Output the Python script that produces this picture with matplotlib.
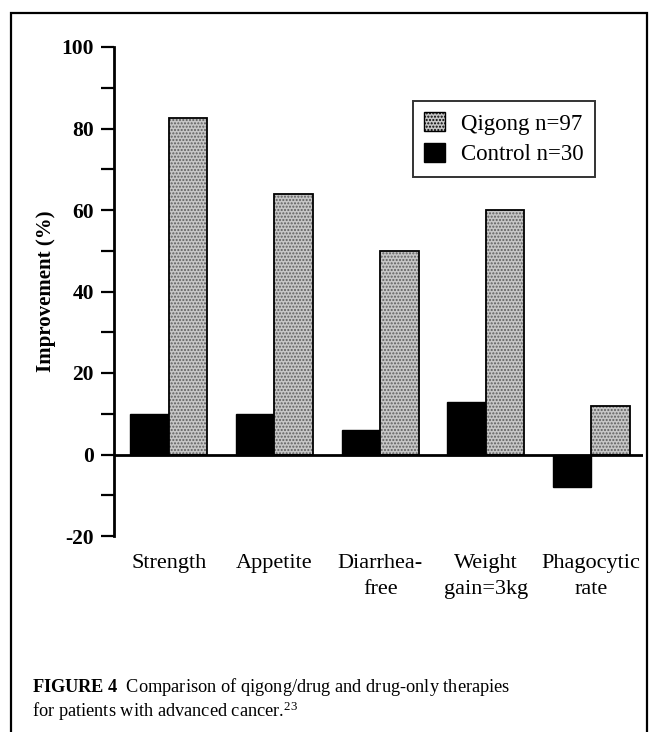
import matplotlib
matplotlib.use("Agg")
import matplotlib.pyplot as plt
from matplotlib.patches import Rectangle, Patch
from matplotlib.ticker import MultipleLocator

categories = ["Strength", "Appetite", "Diarrhea-\nfree", "Weight\ngain=3kg", "Phagocytic\nrate"]
qigong = [82.5, 64, 50, 60, 12]
control = [10, 10, 6, 13, -8]
series_labels = ["Qigong n=97", "Control n=30"]
yticks = [-20, 0, 20, 40, 60, 80, 100]
caption_line1 = r"$\mathbf{FIGURE\ 4}$  Comparison of qigong/drug and drug-only therapies"
caption_line2 = r"for patients with advanced cancer.$^{23}$"

plt.rcParams['font.family'] = ['Liberation Serif', 'DejaVu Serif']
plt.rcParams['mathtext.fontset'] = 'custom'
plt.rcParams['mathtext.rm'] = 'Liberation Serif'
plt.rcParams['mathtext.bf'] = 'Liberation Serif:bold'
plt.rcParams['mathtext.it'] = 'Liberation Serif:italic'
plt.rcParams['hatch.linewidth'] = 1.0

W, H = 650, 732
fig = plt.figure(figsize=(W / 100, H / 100), dpi=100)
fig.patch.set_facecolor('white')

left_px, right_px, top_px, bot_px = 114, 643, 47, 536
ax = fig.add_axes([left_px / W, 1 - bot_px / H, (right_px - left_px) / W, (bot_px - top_px) / H])

x = list(range(len(categories)))
w = 0.365
xc = [i - w / 2 for i in x]
xq = [i + w / 2 for i in x]

qface = '#c6c6c6'
qhatch = '#5e5e5e'

ax.bar(xc, control, width=w, color='black', edgecolor='black', linewidth=1.0, zorder=3)
ax.bar(xq, qigong, width=w, color=qface, edgecolor=qhatch, hatch='.....', linewidth=0, zorder=3)
ax.bar(xq, qigong, width=w, fill=False, edgecolor='black', linewidth=1.3, zorder=4)

ax.axhline(0, color='black', linewidth=2.0, zorder=5)

ax.set_xlim(-0.52, 4.49)
ax.set_ylim(-20, 100)
for s in ['top', 'right', 'bottom']:
    ax.spines[s].set_visible(False)
ax.spines['left'].set_linewidth(2.0)

ax.set_yticks(yticks)
ax.set_yticklabels([str(v) for v in yticks])
ax.yaxis.set_minor_locator(MultipleLocator(10))
ax.tick_params(axis='y', which='both', direction='out', length=9.5, width=1.6, pad=5,
               labelsize=15.5)
for lab in ax.get_yticklabels():
    lab.set_fontweight('bold')

ax.set_xticks(x)
ax.set_xticklabels(categories, fontsize=16, linespacing=1.5)
ax.tick_params(axis='x', length=0, pad=13)

ax.set_ylabel("Improvement (%)", fontsize=15, fontweight='bold', labelpad=4)

handles = [Patch(facecolor=qface, edgecolor='black', hatch='.....', linewidth=1.0),
           Patch(facecolor='black', edgecolor='black')]
leg = fig.legend(handles, series_labels, loc='upper left',
                 bbox_to_anchor=(413 / W, 1 - 101 / H), bbox_transform=fig.transFigure,
                 fontsize=16.5, frameon=True, fancybox=False, borderaxespad=0,
                 handlelength=0.9, handleheight=0.9, handletextpad=0.7,
                 labelspacing=0.35, borderpad=0.5)
leg.get_frame().set_edgecolor('black')
leg.get_frame().set_linewidth(1.4)

fig.text(32 / W, 1 - 687 / H, caption_line1, fontsize=13.2, va='center', ha='left')
fig.text(32 / W, 1 - 711 / H, caption_line2, fontsize=13.2, va='center', ha='left')

fig.patches.append(Rectangle((11 / W, -0.05), (647 - 11) / W, 1.05 - 13 / H,
                             transform=fig.transFigure, fill=False,
                             edgecolor='black', linewidth=1.6))

fig.savefig("out.png", dpi=100)
